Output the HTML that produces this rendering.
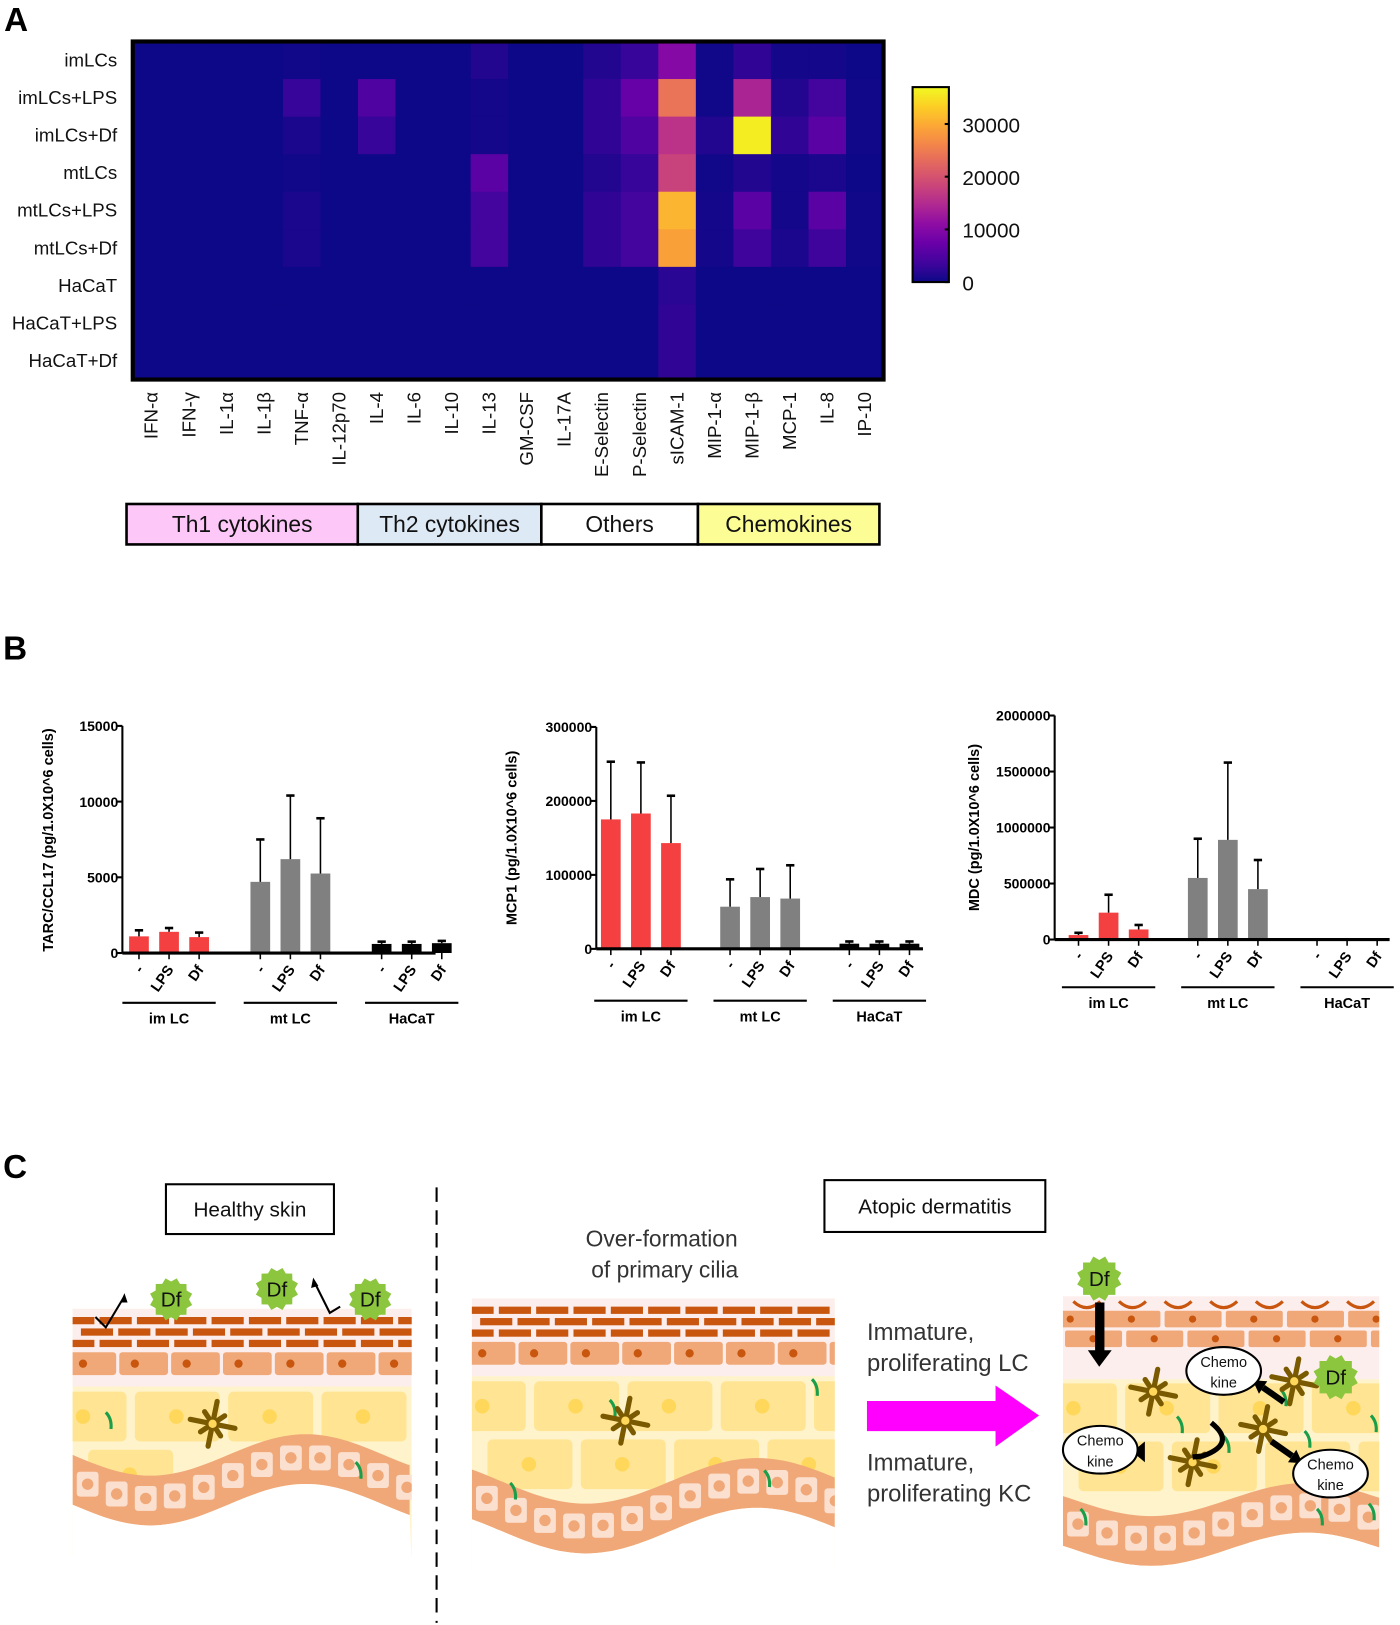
<!DOCTYPE html>
<html><head><meta charset="utf-8"><style>
html,body{margin:0;padding:0;background:#fff;}
svg{display:block;font-family:"Liberation Sans",sans-serif;}
</style></head><body>
<svg id="fig" width="1400" height="1625" viewBox="0 0 1350 1567" xmlns="http://www.w3.org/2000/svg">
<g id="panelA"></g>
<g id="panelB"></g>
<g id="panelC"></g>
</svg>
<script>
// ---------- Heatmap data ----------
const hmRows = ["imLCs","imLCs+LPS","imLCs+Df","mtLCs","mtLCs+LPS","mtLCs+Df","HaCaT","HaCaT+LPS","HaCaT+Df"];
const hmCols = ["IFN-α","IFN-γ","IL-1α","IL-1β","TNF-α","IL-12p70","IL-4","IL-6","IL-10","IL-13","GM-CSF","IL-17A","E-Selectin","P-Selectin","sICAM-1","MIP-1-α","MIP-1-β","MCP-1","IL-8","IP-10"];
const rowImLCs    = [0,0,0,0,300,0,0,0,0,1500,0,0,1500,3000,10000,300,2500,500,500,0];
const rowImLCsLPS = [0,0,0,0,3000,0,5000,0,0,500,0,0,2500,7000,24000,300,14000,1500,4000,300];
const rowImLCsDf  = [0,0,0,0,1000,0,3000,0,0,500,0,0,2500,5000,16000,1500,36000,2500,6000,300];
const rowMtLCs    = [0,0,0,0,300,0,0,0,0,6000,0,0,1500,3000,18000,300,1500,500,1000,0];
const rowMtLCsLPS = [0,0,0,0,1000,0,0,0,0,4000,0,0,2500,4000,31000,500,6000,500,6000,300];
const rowMtLCsDf  = [0,0,0,0,1000,0,0,0,0,4000,0,0,2500,4000,29000,500,3500,1000,3500,300];
const rowHaCaT    = [0,0,0,0,0,0,0,0,0,0,0,0,0,0,2000,0,0,0,0,0];
const rowHaCaTLPS = [0,0,0,0,0,0,0,0,0,0,0,0,0,0,2500,0,0,0,0,0];
const rowHaCaTDf  = [0,0,0,0,0,0,0,0,0,0,0,0,0,0,2500,0,0,0,0,0];
const hmMatrix = [rowImLCs,rowImLCsLPS,rowImLCsDf,rowMtLCs,rowMtLCsLPS,rowMtLCsDf,rowHaCaT,rowHaCaTLPS,rowHaCaTDf];
const cbTicks = [0,10000,20000,30000];
const cbMax = 37000;
const groupNames = ["Th1 cytokines","Th2 cytokines","Others","Chemokines"];

// ---------- Bar chart data ----------
const barGroups = ["im LC","mt LC","HaCaT"];
const barConds = ["-","LPS","Df"];
const tarcMeans = [1100,1400,1050, 4700,6200,5250, 600,600,650];
const tarcErrs  = [1500,1650,1350, 7500,10400,8900, 750,750,800];
const tarcTicks = [0,5000,10000,15000];
const mcpMeans = [175000,183000,143000, 57000,70000,68000, 7000,7000,7000];
const mcpErrs  = [253000,252000,207000, 94000,108000,113000, 10000,10000,10000];
const mcpTicks = [0,100000,200000,300000];
const mdcMeans = [40000,240000,90000, 550000,890000,450000, 0,0,0];
const mdcErrs  = [60000,400000,130000, 900000,1580000,710000, 0,0,0];
const mdcTicks = [0,500000,1000000,1500000,2000000];

const NS="http://www.w3.org/2000/svg";
function el(tag,attrs,parent,txt){const e=document.createElementNS(NS,tag);for(const k in attrs)e.setAttribute(k,attrs[k]);if(txt!==undefined)e.textContent=txt;parent.appendChild(e);return e;}

const plasma=["#0d0887","#41049d","#6a00a8","#8f0da4","#b12a90","#cc4778","#e16462","#f2844b","#fca636","#fcce25","#f0f921"];
function hex2rgb(h){return [parseInt(h.substr(1,2),16),parseInt(h.substr(3,2),16),parseInt(h.substr(5,2),16)];}
function plasmaColor(t){t=Math.max(0,Math.min(1,t));const p=t*10;const i=Math.min(9,Math.floor(p));const f=p-i;const a=hex2rgb(plasma[i]),b=hex2rgb(plasma[i+1]);return "rgb("+a.map((v,k)=>Math.round(v+(b[k]-v)*f)).join(",")+")";}

// ---------- Panel A ----------
(function(){
  const g=document.getElementById('panelA');
  const L=el('text',{x:4,y:30,'font-size':32,'font-weight':'bold'},g,'A');
  
  const hx=128,hy=40,hw=724,hh=326;
  const cw=hw/hmCols.length, ch=hh/hmRows.length;
  const xCell=i=>hx+i*cw, yCell=j=>hy+j*ch;
  hmMatrix.forEach((row,j)=>row.forEach((v,i)=>{
    const r=el('rect',{x:xCell(i),y:yCell(j),width:cw+0.5,height:ch+0.5,fill:plasmaColor(v/cbMax)},g);
    
    
  }));
  const b=el('rect',{x:hx,y:hy,width:hw,height:hh,fill:'none',stroke:'#000','stroke-width':4},g);
  
  hmRows.forEach((r,j)=>{
    const t=el('text',{x:113,y:yCell(j)+ch/2+6,'text-anchor':'end','font-size':18,fill:'#111'},g,r);
    
  });
  hmCols.forEach((c,i)=>{
    const cx=xCell(i)+cw/2+6;
    const t=el('text',{x:cx,y:378,'text-anchor':'end','font-size':18,fill:'#111',transform:'rotate(-90 '+cx+' 378)'},g,c);
    
  });
  const cbx=880,cby=84,cbw=35,cbh=188;
  const defs=el('defs',{},g);
  const lg=el('linearGradient',{id:'plasmaGrad',x1:0,y1:1,x2:0,y2:0},defs);
  plasma.forEach((c,k)=>el('stop',{offset:(k*10)+'%','stop-color':c},lg));
  const cb=el('rect',{x:cbx,y:cby,width:cbw,height:cbh,fill:'url(#plasmaGrad)',stroke:'#000','stroke-width':2},g);
  
  const yCb=v=>cby+cbh-v/cbMax*cbh;
  cbTicks.forEach(v=>{
    el('line',{x1:cbx+cbw-4,x2:cbx+cbw,y1:yCb(v),y2:yCb(v),stroke:'#000','stroke-width':2},g);
    const t=el('text',{x:928,y:yCb(v)+8,'font-size':20,fill:'#111'},g,String(v));
    
  });
  const gb=[[122,345,'#fdc8f8'],[345,522,'#dde9f5'],[522,673,'#ffffff'],[673,848,'#fdfd96']];
  gb.forEach((q,k)=>{
    const r=el('rect',{x:q[0],y:486,width:q[1]-q[0],height:39,fill:q[2],stroke:'#000','stroke-width':2.5},g);
    
    const t=el('text',{x:(q[0]+q[1])/2,y:513,'text-anchor':'middle','font-size':22,fill:'#111'},g,groupNames[k]);
    
  });
})();

// ---------- Panel B ----------
function barChart(cfg,means,errs,ticks){
  const g=el('g',{},document.getElementById('panelB'));
  
  const maxV=ticks[ticks.length-1];
  const y=v=>cfg.base-(v/maxV)*(cfg.base-cfg.top);
  const xc=(gi,ci)=>cfg.ax+cfg.off+gi*cfg.gsp+ci*29;
  const colors=['#f44040','#808080','#000'];
  means.forEach((m,k)=>{
    const gi=Math.floor(k/3),ci=k%3,cx=xc(gi,ci);
    if(m>0){
      const r=el('rect',{x:cx-9.5,y:y(m),width:19,height:cfg.base-y(m),fill:colors[gi]},g);
      
    }
    if(errs[k]>m){
      el('line',{x1:cx,x2:cx,y1:y(m),y2:y(errs[k]),stroke:'#000','stroke-width':1.5},g);
      el('line',{x1:cx-4,x2:cx+4,y1:y(errs[k]),y2:y(errs[k]),stroke:'#000','stroke-width':2.5},g);
    }
    el('line',{x1:cx,x2:cx,y1:cfg.base,y2:cfg.base+6,stroke:'#000','stroke-width':1.5},g);
    const tx=cx+5,ty=cfg.base+16;
    const t=el('text',{x:tx,y:ty,'text-anchor':'end','font-size':14,'font-weight':'bold',transform:'rotate(-55 '+tx+' '+ty+')'},g,barConds[ci]);
    
  });
  barGroups.forEach((gn,gi)=>{
    const c=xc(gi,1);
    el('line',{x1:c-45,x2:c+45,y1:cfg.ul,y2:cfg.ul,stroke:'#000','stroke-width':2},g);
    const t=el('text',{x:c,y:cfg.ul+20,'text-anchor':'middle','font-size':14,'font-weight':'bold'},g,gn);
    
  });
  el('line',{x1:cfg.ax,x2:cfg.ax,y1:cfg.top,y2:cfg.base,stroke:'#000','stroke-width':2},g);
  el('line',{x1:cfg.ax,x2:cfg.end,y1:cfg.base,y2:cfg.base,stroke:'#000','stroke-width':3},g);
  ticks.forEach(v=>{
    el('line',{x1:cfg.ax-5,x2:cfg.ax,y1:y(v),y2:y(v),stroke:'#000','stroke-width':2},g);
    const t=el('text',{x:cfg.ax-4,y:y(v)+5,'text-anchor':'end','font-size':13.5,'font-weight':'bold'},g,String(v));
    
  });
  const t=el('text',{x:cfg.tx,y:cfg.ty,'text-anchor':'middle','font-size':14,'font-weight':'bold',transform:'rotate(-90 '+cfg.tx+' '+cfg.ty+')'},g,cfg.title);
  
}
(function(){
  const g=document.getElementById('panelB');
  const L=el('text',{x:3,y:636,'font-size':32,'font-weight':'bold'},g,'B');
  
})();
barChart({name:'tarc-chart',ax:118,top:700,base:919,off:16,gsp:117,end:420,ul:967,tx:51,ty:810,title:'TARC/CCL17 (pg/1.0X10^6 cells)'},tarcMeans,tarcErrs,tarcTicks);
barChart({name:'mcp1-chart',ax:575,top:701,base:915,off:14,gsp:115,end:890,ul:965,tx:498,ty:808,title:'MCP1 (pg/1.0X10^6 cells)'},mcpMeans,mcpErrs,mcpTicks);
barChart({name:'mdc-chart',ax:1017,top:690,base:906,off:23,gsp:115,end:1340,ul:952,tx:944,ty:798,title:'MDC (pg/1.0X10^6 cells)'},mdcMeans,mdcErrs,mdcTicks);

// ---------- Panel C ----------
(function(){
  const g=document.getElementById('panelC');
  const defs=el('defs',{},g);
  const L=el('text',{x:3,y:1136,'font-size':32,'font-weight':'bold'},g,'C');
  
  function box(x,y,w,h,txt,name){
    const r=el('rect',{x:x,y:y,width:w,height:h,fill:'#fff',stroke:'#000','stroke-width':2},g);
    
    el('text',{x:x+w/2,y:y+h/2+7,'text-anchor':'middle','font-size':20,fill:'#111'},g,txt);
  }
  box(160,1142,162,48,'Healthy skin','healthy-skin-box');
  box(795,1138,213,50,'Atopic dermatitis','atopic-dermatitis-box');
  const dl=el('line',{x1:421,x2:421,y1:1145,y2:1565,stroke:'#000','stroke-width':2,'stroke-dasharray':'14 8'},g);
  
  el('text',{x:638,y:1202,'text-anchor':'middle','font-size':22,fill:'#333'},g,'Over-formation');
  el('text',{x:641,y:1232,'text-anchor':'middle','font-size':22,fill:'#333'},g,'of primary cilia');
  el('text',{x:836,y:1292,'font-size':23,fill:'#333'},g,'Immature,');
  el('text',{x:836,y:1322,'font-size':23,fill:'#333'},g,'proliferating LC');
  el('text',{x:836,y:1418,'font-size':23,fill:'#333'},g,'Immature,');
  el('text',{x:836,y:1448,'font-size':23,fill:'#333'},g,'proliferating KC');
  const ar=el('polygon',{points:'836,1351 960,1351 960,1336 1002,1365 960,1395 960,1380 836,1380',fill:'#ff00ff'},g);
  

  let cid=0;
  function skin(x,w,top,bot,name,topArcs,waveMid,waveAmp,waveLowX,period){
    const sg=el('g',{},g);
    
    const id='clip'+(cid++);
    const cp=el('clipPath',{id:id},defs);el('rect',{x:x,y:top,width:w,height:bot-top+60},cp);
    sg.setAttribute('clip-path','url(#'+id+')');
    const wy=xx=>waveMid+waveAmp*Math.cos(2*Math.PI*(xx-waveLowX)/period);
    el('rect',{x:x,y:top,width:w,height:bot-top+20,fill:'#fff3cc'},sg);
    el('rect',{x:x,y:top,width:w,height:topArcs?80:75,fill:'#fdeeee'},sg);
    if(topArcs){
      for(let xx=x+10;xx<x+w;xx+=44) el('path',{d:'M'+xx+' '+(top+5)+' q13 12 26 0',fill:'none',stroke:'#c9560f','stroke-width':3},sg);
      const y0=top+14;
      for(let r=0;r<2;r++)for(let xx=x-20+r*22;xx<x+w;xx+=59){
        el('rect',{x:xx,y:y0+r*19,width:55,height:16,rx:2,fill:'#f0a878'},sg);
        el('circle',{cx:xx+27,cy:y0+r*19+8,r:3.5,fill:'#c9560f'},sg);
      }
    } else {
      const y0=top+8;
      for(let r=0;r<3;r++)for(let xx=x-10+(r%2)*18;xx<x+w;xx+=36)
        el('rect',{x:xx,y:y0+r*11,width:31,height:7,fill:'#c9560f'},sg);
      for(let xx=x-5;xx<x+w;xx+=50){
        el('rect',{x:xx,y:top+42,width:47,height:22,rx:3,fill:'#f0a878'},sg);
        el('circle',{cx:xx+15,cy:top+53,r:4,fill:'#c9560f'},sg);
      }
    }
    const yTop=top+(topArcs?84:80);
    for(let r=0;r<4;r++){
      const yy=yTop+r*56;
      for(let xx=x-30+(r%2)*45;xx<x+w;xx+=90){
        if(yy+20>wy(xx+40)-20)continue;
        el('rect',{x:xx,y:yy,width:82,height:48,rx:5,fill:'#ffe593'},sg);
        el('circle',{cx:xx+40,cy:yy+24,r:7,fill:'#ffd75a'},sg);
      }
    }
    let up=[],dn=[];
    for(let xx=x;xx<=x+w+2;xx+=5){up.push(xx+','+(wy(xx)-22).toFixed(1));dn.push(xx+','+(wy(xx)+26).toFixed(1));}
    el('path',{d:'M'+up.join(' L')+' L'+dn.slice().reverse().join(' L')+' Z',fill:'#f0a878'},sg);
    // white below the band
    el('path',{d:'M'+dn.join(' L')+' L'+(x+w+2)+','+(bot+80)+' L'+x+','+(bot+80)+' Z',fill:'#fff'},sg);
    for(let xx=x+4;xx<x+w;xx+=28){
      const yy=wy(xx+11);
      el('rect',{x:xx,y:yy-12,width:21,height:24,rx:3,fill:'#fbe0d0'},sg);
      el('circle',{cx:xx+10.5,cy:yy,r:5.5,fill:'#f0a878'},sg);
    }
    return sg;
  }
  skin(70,327,1262,1480,'healthy-skin-illustration',false,1425,20,145,300);
  skin(455,350,1252,1495,'cilia-skin-illustration',false,1450,22,565,330);
  skin(1025,305,1250,1505,'atopic-skin-illustration',true,1468,16,1110,300);

  function df(cx,cy,r){
    let pts=[];for(let k=0;k<24;k++){const rr=k%2?r:r*0.82;const a=k*Math.PI/12;pts.push((cx+rr*Math.cos(a)).toFixed(1)+','+(cy+rr*Math.sin(a)).toFixed(1));}
    const p=el('polygon',{points:pts.join(' '),fill:'#8cc63f'},g);
    
    el('text',{x:cx,y:cy+7,'text-anchor':'middle','font-size':20,fill:'#111'},g,'Df');
  }
  function lc(cx,cy){
    const lg=el('g',{stroke:'#7a5a00','stroke-width':5,'stroke-linecap':'round'},g);
    
    for(let k=0;k<8;k++){const a=k*Math.PI/4+0.2;const l=k%2?14:22;el('line',{x1:cx,y1:cy,x2:cx+l*Math.cos(a),y2:cy+l*Math.sin(a)},lg);}
    el('circle',{cx:cx,cy:cy,r:4,fill:'#ffd75a',stroke:'none'},g);
  }
  function chemo(cx,cy){
    const e=el('ellipse',{cx:cx,cy:cy,rx:36,ry:23,fill:'#fff',stroke:'#000','stroke-width':2},g);
    
    el('text',{x:cx,y:cy-4,'text-anchor':'middle','font-size':14,fill:'#111'},g,'Chemo');
    el('text',{x:cx,y:cy+16,'text-anchor':'middle','font-size':14,fill:'#111'},g,'kine');
  }
  function cilium(x,y){el('path',{d:'M'+x+' '+y+' q6 6 5 16',fill:'none',stroke:'#1a9e4a','stroke-width':3},g);}
  [[102,1362],[343,1410],[588,1350],[737,1418],[492,1430],[783,1330]].forEach(p=>cilium(p[0],p[1]));
  [[1042,1455],[1135,1366],[1180,1385],[1258,1380],[1270,1455],[1320,1450],[1235,1340],[1322,1365]].forEach(p=>cilium(p[0],p[1]));
  lc(205,1373); lc(603,1370);
  lc(1112,1342); lc(1248,1332); lc(1150,1410); lc(1218,1378);
  df(165,1253,21); df(267,1243,21); df(357,1253,21); df(1060,1233,22); df(1288,1328,22);
  el('path',{d:'M92 1270 l10 10 l18 -30',fill:'none',stroke:'#000','stroke-width':2},g);
  el('polygon',{points:'120,1247 116,1256 123,1256',fill:'#000'},g);
  el('path',{d:'M303 1236 l15 30 l10 -6',fill:'none',stroke:'#000','stroke-width':2},g);
  el('polygon',{points:'302,1232 300,1242 307,1240',fill:'#000'},g);
  el('rect',{x:1056,y:1256,width:9,height:48,fill:'#000'},g);
  el('polygon',{points:'1049,1302 1072,1302 1060,1318',fill:'#000'},g);
  el('path',{d:'M1168 1372 q25 20 -8 32 l-10 1',fill:'none',stroke:'#000','stroke-width':5},g);
  el('polygon',{points:'1092,1400 1104,1390 1104,1410',fill:'#000'},g);
  el('line',{x1:1238,y1:1352,x2:1218,y2:1338,stroke:'#000','stroke-width':6},g);
  el('polygon',{points:'1208,1331 1222,1332 1214,1344',fill:'#000'},g);
  el('line',{x1:1226,y1:1390,x2:1246,y2:1404,stroke:'#000','stroke-width':6},g);
  el('polygon',{points:'1256,1411 1242,1410 1250,1398',fill:'#000'},g);
  chemo(1061,1398); chemo(1180,1322); chemo(1283,1421);
})();
</script>
</body></html>
